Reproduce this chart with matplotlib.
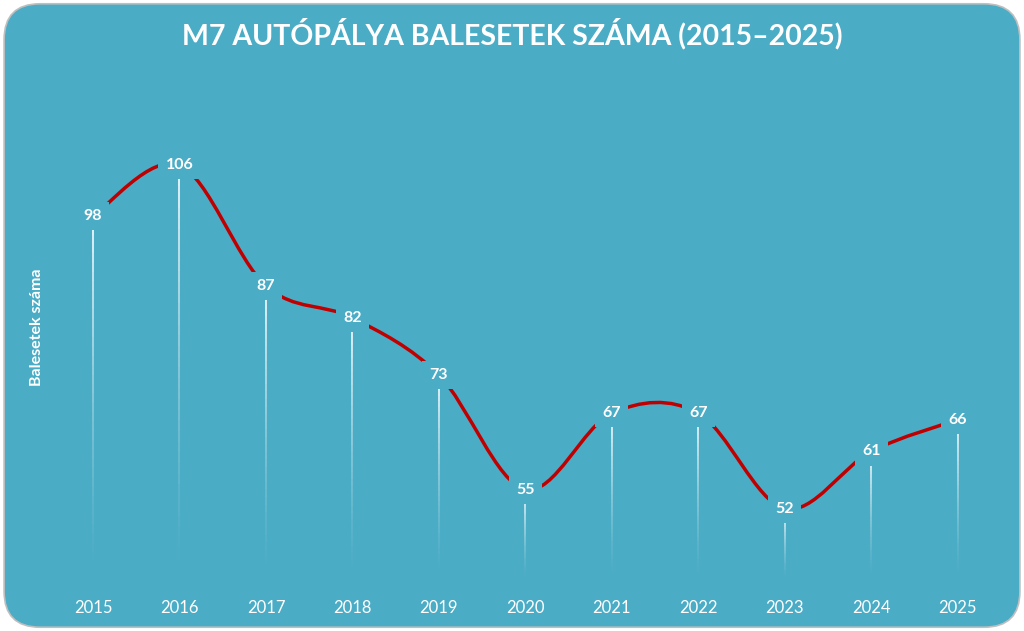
import numpy as np
import matplotlib
matplotlib.use('Agg')
import matplotlib.pyplot as plt
from matplotlib.patches import FancyBboxPatch, PathPatch
from matplotlib.path import Path
from matplotlib.collections import LineCollection

# adatok
evek = [2015, 2016, 2017, 2018, 2019, 2020, 2021, 2022, 2023, 2024, 2025]
balesetek = [98, 106, 87, 82, 73, 55, 67, 67, 52, 61, 66]

cim = 'M7 AUTÓPÁLYA BALESETEK SZÁMA (2015–2025)'
y_cimke = 'Balesetek száma'

hatter = '#4BACC6'
piros = '#C00000'
plt.rcParams['font.family'] = ['Lato', 'DejaVu Sans']

fig = plt.figure(figsize=(10.24, 6.31), dpi=100, facecolor='white')

# lekerekített háttér
keret = FancyBboxPatch((0.004, 0.006), 0.992, 0.988, boxstyle='round,pad=0,rounding_size=0.035',
                       transform=fig.transFigure, facecolor=hatter, edgecolor='#BFBFBF',
                       linewidth=1.2, mutation_aspect=1024 / 631, zorder=-10)
fig.patches.append(keret)

ax = fig.add_axes([0.0486, 0.0729, 0.929, 0.726])
ax.set_zorder(5)
ax.set_facecolor('none')
ax.set_xlim(2014.5, 2025.5)
ax.set_ylim(40, 112)
for s in ax.spines.values():
    s.set_visible(False)
ax.set_yticks([])
ax.set_xticks(evek)
ax.tick_params(axis='x', length=0, colors='white', labelsize=12, pad=11)

# halványuló függőleges vonalak
for x, y in zip(evek, balesetek):
    ys = np.linspace(y, 40.8, 40)
    segs = [[(x, ys[i]), (x, ys[i + 1])] for i in range(len(ys) - 1)]
    alf = np.linspace(0.95, 0.0, len(segs)) ** 1.4
    cols = [(1, 1, 1, a) for a in alf]
    ax.add_collection(LineCollection(segs, colors=cols, linewidths=1.3, zorder=2))

# simított görbe (Bezier)
x = np.array(evek, dtype=float)
y = np.array(balesetek, dtype=float)
verts = [(x[0], y[0])]
codes = [Path.MOVETO]
n = len(x)
for i in range(n - 1):
    p0 = (x[max(i - 1, 0)], y[max(i - 1, 0)])
    p1 = (x[i], y[i])
    p2 = (x[i + 1], y[i + 1])
    p3 = (x[min(i + 2, n - 1)], y[min(i + 2, n - 1)])
    c1 = (p1[0] + (p2[0] - p0[0]) / 6, p1[1] + (p2[1] - p0[1]) / 6)
    c2 = (p2[0] - (p3[0] - p1[0]) / 6, p2[1] - (p3[1] - p1[1]) / 6)
    verts += [c1, c2, p2]
    codes += [Path.CURVE4] * 3
ax.add_patch(PathPatch(Path(verts, codes), facecolor='none', edgecolor=piros,
                       linewidth=2.5, capstyle='round', zorder=3))

# értékcímkék
for xi, yi in zip(evek, balesetek):
    ax.text(xi, yi, str(yi), ha='center', va='center', color='white', fontsize=11.5,
            fontweight='bold', zorder=4,
            bbox=dict(boxstyle='square,pad=0.45', facecolor=hatter, edgecolor='none'))

fig.text(0.5, 0.946, cim, ha='center', va='center', color='white', fontsize=20.5,
         fontweight='bold')
fig.text(0.036, 0.482, y_cimke, ha='center', va='center', rotation=90, color='white',
         fontsize=11.5, fontweight='bold')

fig.savefig('out.png', dpi=100, facecolor='white')
